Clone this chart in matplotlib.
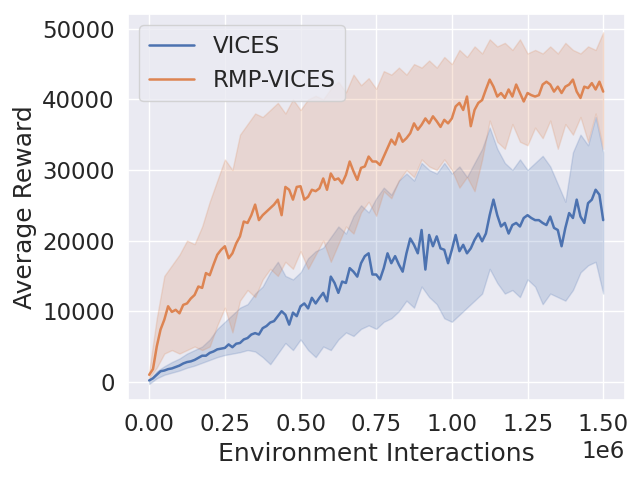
import numpy as np
import matplotlib
matplotlib.use('Agg')
import matplotlib.pyplot as plt
from matplotlib.ticker import MultipleLocator
import seaborn as sns

# 環境互動步數: 均值每 0.0125e6 一點, 區間每 0.025e6 一點
steps_mean = np.arange(0, 121) * 0.0125e6
steps_band = np.arange(0, 61) * 0.025e6

# VICES
vices_mean = [200, 500, 1000, 1500, 1600, 1800, 1900, 2100, 2300, 2600,
              2800, 2900, 3100, 3400, 3700, 3700, 4100, 4300, 4600, 4700,
              4800, 5300, 4900, 5400, 5500, 6000, 6200, 6700, 6900, 6700,
              7600, 7900, 8400, 8600, 9300, 10000, 9500, 8100, 9800, 9300,
              10700, 11100, 10400, 11900, 11100, 11900, 12600, 11400, 14900, 14000,
              12600, 14200, 14000, 16100, 15600, 14900, 16800, 17800, 18200, 15200,
              15200, 14500, 16100, 18200, 16800, 17800, 16600, 15600, 18200, 20300,
              19400, 18200, 21500, 15900, 20800, 19200, 20600, 18900, 18700, 16800,
              18700, 20800, 18500, 19400, 18200, 18900, 20100, 21000, 19900, 21000,
              23600, 25800, 23600, 22000, 22500, 21000, 22200, 22500, 22000, 23200,
              23600, 23200, 22900, 22900, 22500, 22200, 23400, 21800, 21500, 19200,
              21800, 23900, 23200, 25800, 23400, 22500, 25300, 25800, 27200, 26500,
              22900]
vices_upper = [200, 1500, 2200, 2800, 3300, 4000, 4500, 5000, 6000, 7500,
               8500, 9500, 10500, 11000, 12500, 13500, 15500, 17000, 15000, 14500,
               15500, 17500, 18500, 19000, 20500, 22000, 21000, 23500, 25000, 24000,
               26000, 27500, 26500, 28500, 29500, 28500, 31000, 30000, 29500, 31000,
               29500, 30500, 29000, 31000, 33000, 36000, 33000, 31000, 30000, 31500,
               30000, 31000, 32000, 30500, 28000, 25500, 32500, 35000, 33500, 37500,
               32500]
vices_lower = [-300, 500, 1000, 1300, 1600, 2000, 2300, 2700, 3100, 3500,
               3800, 4000, 4200, 4500, 4300, 3500, 2500, 4000, 5500, 4500,
               6000, 4500, 3500, 5000, 4500, 6000, 7000, 6500, 7500, 8000,
               7500, 8500, 9000, 10000, 11500, 10500, 13500, 12000, 11000, 9000,
               8500, 9500, 10500, 11500, 12500, 16000, 14000, 12500, 13000, 12000,
               14500, 13500, 11000, 12500, 12000, 11500, 13000, 15500, 16500, 17000,
               12500]

# RMP-VICES
rmp_mean = [1000, 1800, 5000, 7400, 8800, 10700, 9900, 10200, 9700, 10900,
            11100, 11800, 12300, 13500, 13300, 15400, 15100, 16600, 18000, 18700,
            19200, 17500, 18200, 19600, 20600, 22700, 22500, 23600, 25100, 22900,
            23600, 24100, 24600, 25100, 25800, 23600, 27600, 27200, 25800, 27600,
            27700, 25800, 26200, 27200, 27000, 27400, 28800, 27200, 29500, 28600,
            28800, 28100, 29300, 31200, 29800, 28600, 30300, 30500, 31900, 31200,
            31200, 30700, 31900, 33100, 34300, 33600, 35200, 34000, 34500, 35200,
            36600, 35700, 36400, 37300, 36600, 37600, 36900, 36100, 37100, 36600,
            37300, 39000, 39500, 38500, 40400, 36200, 38500, 39500, 39900, 41400,
            42800, 41800, 40400, 40900, 40200, 41400, 40400, 42100, 40900, 39700,
            40900, 40600, 40400, 40600, 42100, 42500, 42100, 41100, 41800, 40900,
            41800, 42100, 42800, 41100, 40200, 41800, 41600, 42300, 41400, 42500,
            41100]
rmp_upper = [1500, 9000, 15000, 16500, 18000, 20000, 19500, 22000, 25500, 28500,
             31500, 30000, 35000, 36500, 38000, 37500, 38500, 39500, 38000, 40000,
             38500, 40000, 40500, 40000, 41500, 42500, 41000, 43500, 42000, 43000,
             41500, 44000, 43500, 44500, 43500, 45000, 44500, 45500, 44500, 46000,
             45000, 47000, 46000, 47500, 46500, 48500, 47500, 48000, 47000, 48500,
             46500, 47000, 46500, 47500, 46500, 48000, 47000, 46500, 47500, 47000,
             49500]
rmp_lower = [500, 2000, 4000, 4500, 4000, 4500, 5000, 4500, 5000, 8000,
             10500, 7000, 11500, 13000, 12000, 14500, 16000, 15000, 17000, 16000,
             18500, 16000, 18000, 20000, 17000, 19500, 22000, 21000, 24000, 25500,
             23500, 27000, 26000, 28500, 30000, 29000, 31500, 30500, 30000, 31500,
             30000, 27500, 29000, 27000, 31500, 37000, 34000, 33000, 36500, 34000,
             33500, 36000, 34500, 37000, 33000, 36500, 35000, 37500, 34000, 38000,
             33000]

sns.set_theme(style='darkgrid', font_scale=1.5)

fig, ax = plt.subplots(figsize=(6.4, 4.8), dpi=100)

ax.plot(steps_mean, vices_mean, label='VICES', color='C0', lw=1.8)
ax.fill_between(steps_band, vices_lower, vices_upper, color='C0', alpha=0.2)
ax.plot(steps_mean, rmp_mean, label='RMP-VICES', color='C1', lw=1.8)
ax.fill_between(steps_band, rmp_lower, rmp_upper, color='C1', alpha=0.2)

ax.xaxis.set_major_locator(MultipleLocator(0.25e6))
ax.set_xlim(-0.07e6, 1.573e6)
ax.set_ylim(-2550, 52100)

ax.set_xlabel('Environment Interactions')
ax.set_ylabel('Average Reward')
ax.legend(loc='upper left')

plt.subplots_adjust(left=0.2, right=0.977, top=0.971, bottom=0.167)
plt.savefig('out.png')
